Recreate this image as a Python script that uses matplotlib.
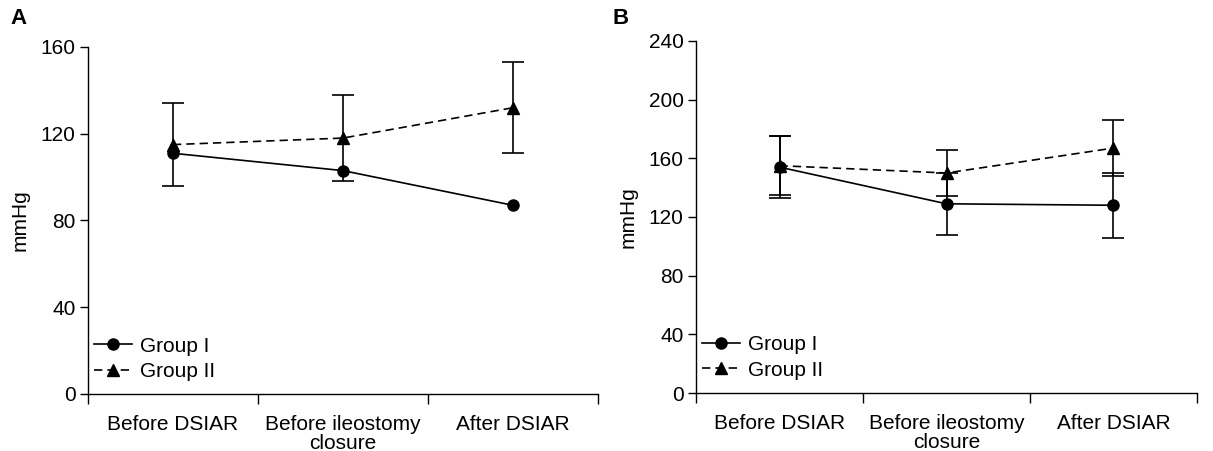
import numpy as np
import matplotlib.pyplot as plt

plt.rcParams['font.family'] = ['Liberation Sans', 'DejaVu Sans']

categories = ["Before DSIAR", "Before ileostomy\nclosure", "After DSIAR"]

# panel A
a_g1 = [111, 103, 87]
a_g2 = [115, 118, 132]
a_g2_err = [19, 20, 21]

# panel B
b_g1 = [154, 129, 128]
b_g1_err = [21, 21, 22]
b_g2 = [155, 150, 167]
b_g2_err = [20, 16, 19]

fig = plt.figure(figsize=(12.13, 4.51), dpi=100)
axA = fig.add_axes([0.0725, 0.1264, 0.4205, 0.7694])
axB = fig.add_axes([0.5738, 0.1286, 0.4130, 0.7805])

x = np.arange(len(categories)) + 0.5


def draw(ax, g1, g1_err, g2, g2_err, ymax, step):
	ax.errorbar(x, g1, yerr=g1_err, color='black', linewidth=1.2, marker='o',
				markersize=8, capsize=8, elinewidth=1.2, capthick=1.2, label="Group I")
	ax.errorbar(x, g2, yerr=g2_err, color='black', linewidth=1.2, linestyle=(0, (5, 3)),
				marker='^', markersize=8, capsize=8, elinewidth=1.2, capthick=1.2, label="Group II")
	ax.set_xlim(0, 3)
	ax.set_ylim(0, ymax)
	ax.set_yticks(np.arange(0, ymax + 1, step))
	ax.set_xticks([0, 1, 2, 3])
	ax.set_xticklabels([])
	ax.set_xticks(x, minor=True)
	ax.set_xticklabels(categories, minor=True, fontsize=15, linespacing=1.0)
	ax.tick_params(axis='x', which='minor', length=0, pad=15)
	ax.tick_params(axis='x', which='major', length=7, width=1, direction='out')
	ax.tick_params(axis='y', length=6, width=1, labelsize=15, pad=3)
	for s in ['top', 'right']:
		ax.spines[s].set_visible(False)
	ax.spines['left'].set_linewidth(1)
	ax.spines['bottom'].set_linewidth(1)
	ax.set_ylabel("mmHg", fontsize=15, labelpad=8)
	h, l = ax.get_legend_handles_labels()
	h = [hh[0] for hh in h]
	ax.legend(h, l, loc='lower left', bbox_to_anchor=(0.0, 0.02), frameon=False, fontsize=15,
			  handlelength=1.8, handletextpad=0.4, labelspacing=0.3, borderpad=0.2,
			  borderaxespad=0.1)


draw(axA, a_g1, None, a_g2, a_g2_err, 160, 40)
draw(axB, b_g1, b_g1_err, b_g2, b_g2_err, 240, 40)

fig.text(10 / 1213, 1 - 18 / 451, "A", fontsize=16, fontweight='bold', va='center')
fig.text(612 / 1213, 1 - 18 / 451, "B", fontsize=16, fontweight='bold', va='center')

plt.savefig("out.png", dpi=100)
plt.close()
